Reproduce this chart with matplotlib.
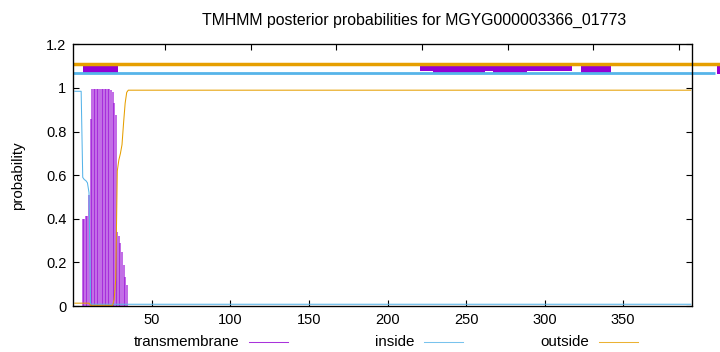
import numpy as np
import matplotlib.pyplot as plt
from matplotlib.lines import Line2D

plt.rcParams['font.family'] = ['Liberation Sans', 'DejaVu Sans']

title = "TMHMM posterior probabilities for MGYG000003366_01773"
seq_len = 393

# posterior probabilities for the first residues, flat afterwards
tm_head = [0, 0, 0, 0, 0, 0.40, 0.40, 0.415, 0.415, 0.51, 0.857,
           0.994, 0.994, 0.994, 0.994, 0.994, 0.994, 0.994, 0.994, 0.994, 0.994, 0.994, 0.994,
           0.99, 0.98, 0.93, 0.876, 0.34, 0.32, 0.29, 0.25, 0.19, 0.135, 0.096]
tm_tail = 0.0
inside_head = [0.985, 0.985, 0.985, 0.985, 0.985, 0.59, 0.58, 0.575, 0.565, 0.52, 0.01]
inside_tail = 0.008
outside_head = [0.013] * 10 + [0.003] * 15 + [0.03, 0.12, 0.62, 0.67, 0.70, 0.74, 0.84, 0.93, 0.98]
outside_tail = 0.99

# topology strip along the top (start, end, bottom, top)
tm_boxes = [(5.98, 28.26, 1.066, 1.112),
            (220.7, 229.0, 1.078, 1.101),
            (229.0, 262.1, 1.066, 1.101),
            (262.1, 267.2, 1.078, 1.101),
            (267.2, 288.8, 1.066, 1.101),
            (288.8, 317.4, 1.078, 1.101),
            (323.1, 342.2, 1.066, 1.101),
            (409.7, 416.0, 1.066, 1.101)]
inside_strip = (0, 408.4, 1.071)
outside_strip = (0, 416.0, 1.109)

x_ticks = [50, 100, 150, 200, 250, 300, 350]
y_ticks = [0, 0.2, 0.4, 0.6, 0.8, 1.0, 1.2]
y_labels = ["0", "0.2", "0.4", "0.6", "0.8", "1", "1.2"]

PURPLE = '#9400D3'
BLUE = '#56B4E9'
ORANGE = '#E69F00'

res = np.arange(1, seq_len + 1)
def fill(head, tail):
    return np.array(head + [tail] * (seq_len - len(head)))
tm = fill(tm_head, tm_tail)
inside = fill(inside_head, inside_tail)
outside = fill(outside_head, outside_tail)

fig = plt.figure(figsize=(7.2, 3.52), dpi=100)
ax = fig.add_axes([73.3/720, 1 - 306/352, (692.3 - 73.3)/720, (306 - 44.4)/352])

ax.vlines(res, 0, tm, color=PURPLE, lw=1.25, alpha=0.65)
ax.plot(res, inside, color=BLUE, lw=0.75)
ax.plot(res, outside, color=ORANGE, lw=0.75)

ax.plot(outside_strip[:2], [outside_strip[2]] * 2, color=ORANGE, lw=2.5,
        solid_capstyle='butt', clip_on=False)
ax.plot(inside_strip[:2], [inside_strip[2]] * 2, color=BLUE, lw=2.0,
        solid_capstyle='butt', clip_on=False)
for x0, x1, y0, y1 in tm_boxes:
    ax.fill_between([x0, x1], y0, y1, color=PURPLE, lw=0, clip_on=False)

ax.set_xlim(0, 394)
ax.set_ylim(0, 1.2)
ax.set_xticks(x_ticks)
ax.set_yticks(y_ticks)
ax.set_yticklabels(y_labels)
ax.tick_params(direction='in', length=4, width=0.8, labelsize=10.5, right=True,
               top=False, pad=5)
for s in ax.spines.values():
    s.set_linewidth(0.9)
ax.set_ylabel("probability", fontsize=10.8, labelpad=15)

# mirrored ticks along the top follow a second scale
ax2 = ax.twiny()
ax2.set_xlim(-3.55, 357.8)
ax2.set_xticks(x_ticks)
ax2.set_xticklabels([])
ax2.tick_params(direction='in', length=4, width=0.8)

fig.text(414/720, 1 - 20/352, title, ha='center', va='center', fontsize=11.4)

# legend in gnuplot style: label then line sample
legend = [("transmembrane", PURPLE, 239, 249, 288),
          ("inside", BLUE, 414, 424, 463),
          ("outside", ORANGE, 589, 599, 638)]
for lab, col, tx, l0, l1 in legend:
    fig.text(tx/720, 1 - 342/352, lab, ha='right', va='center', fontsize=10.9)
    fig.add_artist(Line2D([l0/720, l1/720], [1 - 342/352] * 2, color=col, lw=0.75,
                          alpha=0.8, transform=fig.transFigure))

fig.savefig("out.png", dpi=100)
